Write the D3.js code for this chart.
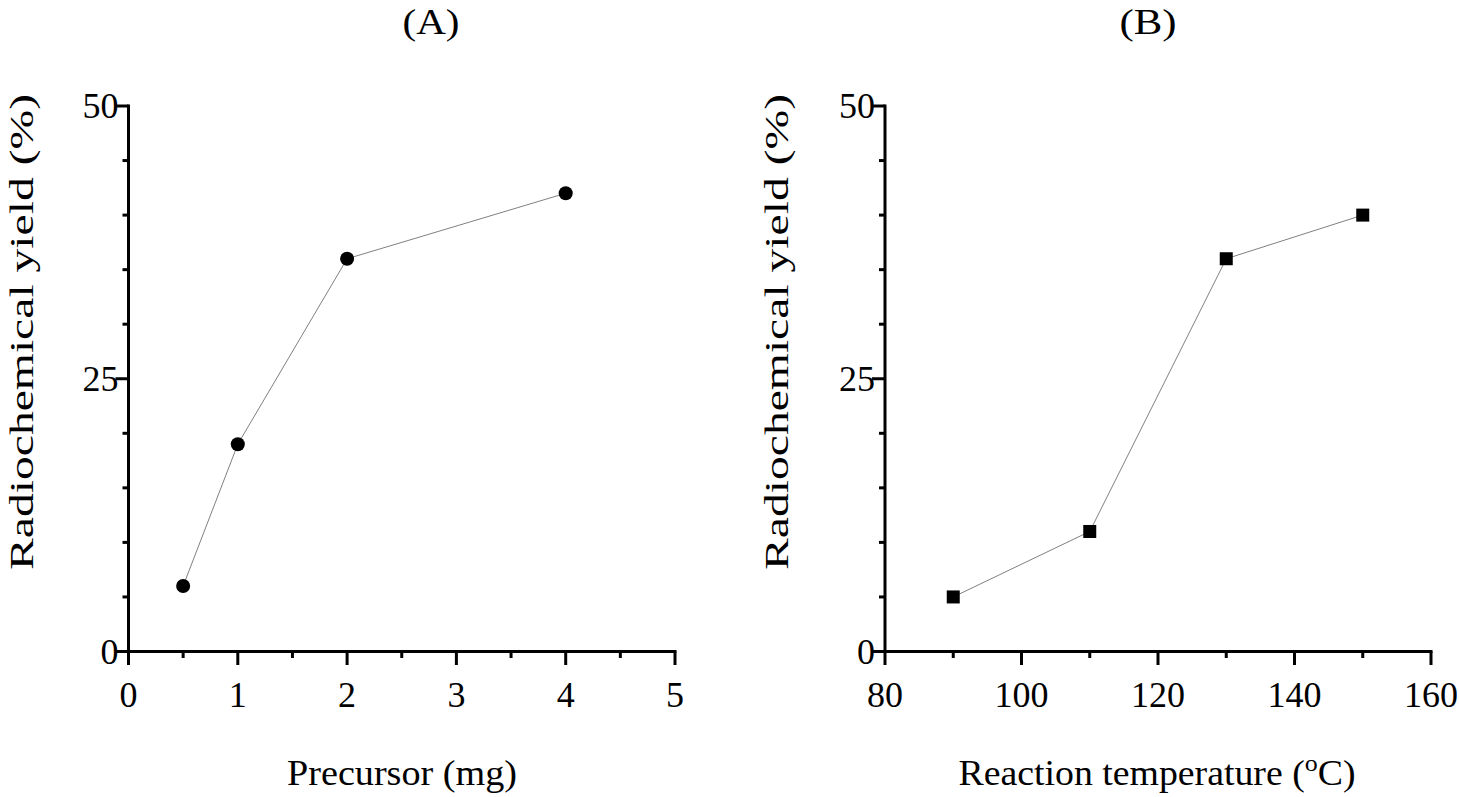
<!DOCTYPE html>
<html><head><meta charset="utf-8">
<script src="https://cdn.jsdelivr.net/npm/d3@7"></script>
<style>body{margin:0;background:#fff}</style>
</head><body>
<svg id="c" width="1459" height="797" font-family="'Liberation Serif', 'Times New Roman', serif"></svg>
<script>
const precursorX = [0.5, 1, 2, 4];
const precursorY = [6, 19, 36, 42];
const tempX = [90, 110, 130, 150];
const tempY = [5, 11, 36, 40];
const yTickLabels = [0, 25, 50];
const xTicksA = [0, 1, 2, 3, 4, 5];
const xTicksB = [80, 100, 120, 140, 160];

const svg = d3.select("#c");
const fs = 36;

function panel(opts) {
  const g = svg.append("g");
  const x = d3.scaleLinear().domain(opts.xDomain).range([opts.x0, opts.x1]);
  const y = d3.scaleLinear().domain([0, 50]).range([651.5, 106]);
  const yMinor = d3.range(0, 51, 5).filter(v => !yTickLabels.includes(v));
  g.selectAll(".ym").data(yMinor).join("line")
    .attr("x1", opts.x0 - 6).attr("x2", opts.x0).attr("y1", d => y(d)).attr("y2", d => y(d))
    .attr("stroke", "#000").attr("stroke-width", 3);
  g.selectAll(".yM").data(yTickLabels).join("line")
    .attr("x1", opts.x0 - 13).attr("x2", opts.x0).attr("y1", d => y(d)).attr("y2", d => y(d))
    .attr("stroke", "#000").attr("stroke-width", 3);
  g.selectAll(".yl").data(yTickLabels).join("text")
    .attr("x", opts.x0 - 10).attr("y", d => y(d) + 12)
    .attr("text-anchor", "end").attr("font-size", fs).text(d => d);
  g.selectAll(".xm").data(opts.xMinor).join("line")
    .attr("x1", d => x(d)).attr("x2", d => x(d)).attr("y1", 651.5).attr("y2", 658)
    .attr("stroke", "#000").attr("stroke-width", 3);
  g.selectAll(".xM").data(opts.xTicks).join("line")
    .attr("x1", d => x(d)).attr("x2", d => x(d)).attr("y1", 651.5).attr("y2", 665)
    .attr("stroke", "#000").attr("stroke-width", 3);
  g.selectAll(".xl").data(opts.xTicks).join("text")
    .attr("x", d => x(d)).attr("y", 707)
    .attr("text-anchor", "middle").attr("font-size", fs).text(d => d);
  g.append("line").attr("x1", opts.x0).attr("x2", opts.x0).attr("y1", 104.5).attr("y2", 653)
    .attr("stroke", "#000").attr("stroke-width", 3);
  g.append("line").attr("x1", opts.x0 - 1.5).attr("x2", opts.x1 + 1.5).attr("y1", 651.5).attr("y2", 651.5)
    .attr("stroke", "#000").attr("stroke-width", 3);
  const pts = opts.xs.map((v, i) => [v, opts.ys[i]]);
  g.append("path").datum(pts)
    .attr("d", d3.line().x(d => x(d[0])).y(d => y(d[1])))
    .attr("fill", "none").attr("stroke", "#808080").attr("stroke-width", 1);
  if (opts.marker === "circle") {
    g.selectAll(".pt").data(pts).join("circle")
      .attr("cx", d => x(d[0])).attr("cy", d => y(d[1])).attr("r", 7).attr("fill", "#000");
  } else {
    g.selectAll(".pt").data(pts).join("rect")
      .attr("x", d => x(d[0]) - 6.5).attr("y", d => y(d[1]) - 6.5)
      .attr("width", 13).attr("height", 13).attr("fill", "#000");
  }
  g.append("text").attr("x", opts.titleX).attr("y", 34).attr("text-anchor", "middle")
    .attr("font-size", 35).attr("textLength", 57).attr("lengthAdjust", "spacingAndGlyphs").text(opts.title);
  g.append("text").attr("transform", `translate(${opts.ylabX},332) rotate(-90)`)
    .attr("text-anchor", "middle").attr("font-size", 34)
    .attr("textLength", 476).attr("lengthAdjust", "spacingAndGlyphs").text("Radiochemical yield (%)");
  const xl = g.append("text").attr("x", opts.xlabX).attr("y", 785).attr("text-anchor", "middle")
    .attr("font-size", 35).attr("textLength", opts.xlabLen).attr("lengthAdjust", "spacingAndGlyphs");
  opts.xlab(xl);
}

panel({
  xDomain: [0, 5], x0: 128.5, x1: 675, xTicks: xTicksA, xMinor: [0.5, 1.5, 2.5, 3.5, 4.5],
  xs: precursorX, ys: precursorY, marker: "circle", title: "(A)", titleX: 431, ylabX: 33, xlabX: 402, xlabLen: 230,
  xlab: t => t.text("Precursor (mg)")
});
panel({
  xDomain: [80, 160], x0: 885, x1: 1431, xTicks: xTicksB, xMinor: [90, 110, 130, 150],
  xs: tempX, ys: tempY, marker: "square", title: "(B)", titleX: 1148, ylabX: 788, xlabX: 1157, xlabLen: 397,
  xlab: t => { t.append("tspan").text("Reaction temperature ("); t.append("tspan").attr("font-size", 24).attr("dy", -14).text("o");
    t.append("tspan").attr("dy", 14).text("C)"); }
});
</script>
</body></html>
